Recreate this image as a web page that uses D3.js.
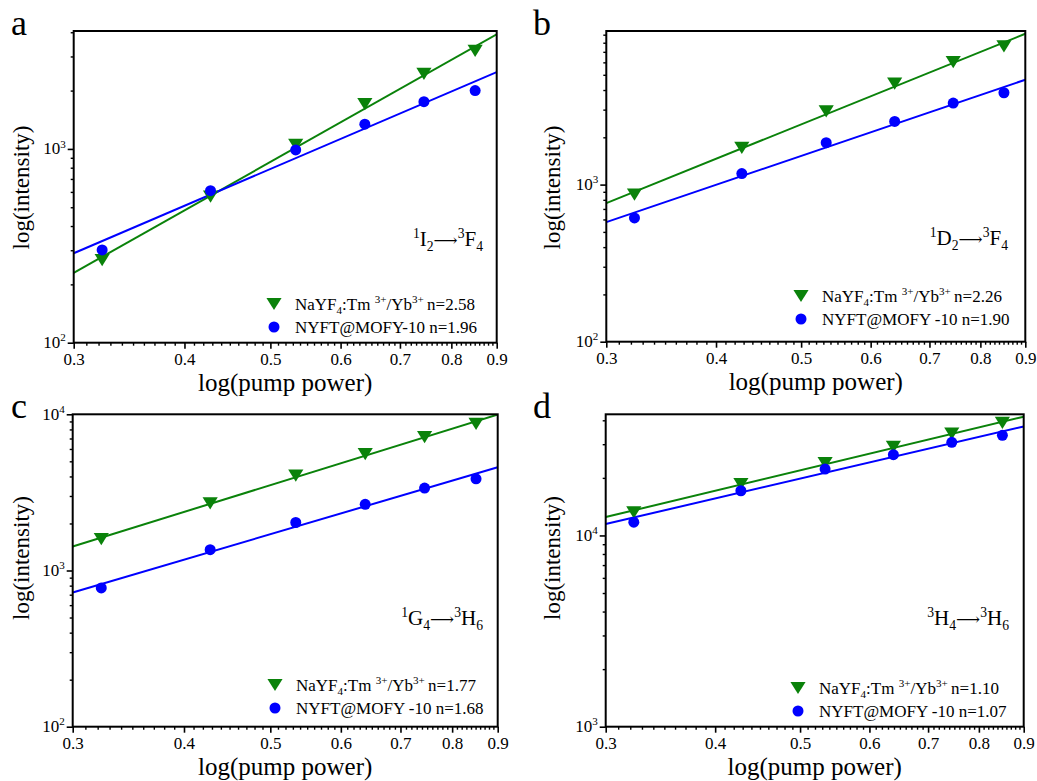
<!DOCTYPE html>
<html>
<head>
<meta charset="utf-8">
<script src="https://cdn.jsdelivr.net/npm/d3@7"></script>
<style>
  html, body { margin: 0; padding: 0; background: #fff; }
  svg { display: block; }
  svg text { font-family: "Liberation Serif", "Times New Roman", serif !important; }
  svg text tspan.arrow { font-family: "DejaVu Serif", "DejaVu Sans", serif !important; }
</style>
</head>
<body>
<svg id="chart" width="1037" height="781"></svg>
<script>
// ---- data -------------------------------------------------------------
// pump power (log axis), same excitation steps for every transition
const pumpPower = [0.323, 0.428, 0.534, 0.639, 0.745, 0.851];
const xTickValues = [0.3, 0.4, 0.5, 0.6, 0.7, 0.8, 0.9];

const panelLetters = ["a", "b", "c", "d"];

// emission transitions, as [text, "sup" | "sub" | "arrow"] segments
const transitions = [
  [["1", "sup"], ["I"], ["2", "sub"], ["\u27F6", "arrow"], ["3", "sup"], ["F"], ["4", "sub"]],
  [["1", "sup"], ["D"], ["2", "sub"], ["\u27F6", "arrow"], ["3", "sup"], ["F"], ["4", "sub"]],
  [["1", "sup"], ["G"], ["4", "sub"], ["\u27F6", "arrow"], ["3", "sup"], ["H"], ["6", "sub"]],
  [["3", "sup"], ["H"], ["4", "sub"], ["\u27F6", "arrow"], ["3", "sup"], ["H"], ["6", "sub"]]
];

// NaYF4:Tm3+/Yb3+ intensities
const nayfIntensityA = [267, 567, 1049, 1701, 2438, 3206];
const nayfIntensityB = [864, 1711, 2924, 4385, 6022, 7574];
const nayfIntensityC = [1589, 2692, 4055, 5569, 7141, 8683];
const nayfIntensityD = [13190, 18570, 23910, 29010, 34070, 38740];

// NYFT@MOFY-10 intensities
const mofyIntensityA = [301, 609, 988, 1341, 1754, 2000];
const mofyIntensityB = [614, 1175, 1849, 2526, 3304, 3843];
const mofyIntensityC = [773, 1360, 2029, 2653, 3370, 3863];
const mofyIntensityD = [11740, 17130, 22250, 26450, 30690, 33390];

// fitted slopes n (log-log)
const nayfSlopes = [2.58, 2.26, 1.77, 1.10];
const mofySlopes = [1.96, 1.90, 1.68, 1.07];

const mofyNames = ["NYFT@MOFY-10", "NYFT@MOFY -10", "NYFT@MOFY -10", "NYFT@MOFY -10"];

// y-axis ranges and labelled decades
const yDomains = [[100, 4060], [100, 9500], [100, 10000], [1000, 43000]];
const yDecades = [[100, 1000], [100, 1000], [100, 1000, 10000], [1000, 10000]];

const nayfSeries = [nayfIntensityA, nayfIntensityB, nayfIntensityC, nayfIntensityD];
const mofySeries = [mofyIntensityA, mofyIntensityB, mofyIntensityC, mofyIntensityD];

// ---- layout ---------------------------------------------------------------
const layout = [
  { left: 73.7,  right: 496.7,  top: 31,    bottom: 342.7, letter: [11, 35],   yTitle: [29, 187.5],  leg: [274, 304], label: [483, 246] },
  { left: 606.3, right: 1025.3, top: 31,    bottom: 341.7, letter: [533, 35],  yTitle: [560, 187.5], leg: [801, 296], label: [1008, 245] },
  { left: 72.7,  right: 497.7,  top: 414.3, bottom: 726.7, letter: [11, 418],  yTitle: [29, 558],    leg: [275, 685], label: [483, 625] },
  { left: 605.7, right: 1023.7, top: 414.3, bottom: 726.7, letter: [533, 418], yTitle: [560, 558],   leg: [798, 688], label: [1009, 625] }
];

const GREEN = "#0a820a";
const BLUE = "#0000ff";
const TICK_FONT = 17;
const LEG_FONT = 17;

const svg = d3.select("#chart");

// downward-pointing triangle marker
const triDown = {
  draw(ctx, size) {
    const h = Math.sqrt(size);
    const hw = h * 0.62;
    ctx.moveTo(-hw, -h / 2);
    ctx.lineTo(hw, -h / 2);
    ctx.lineTo(0, h / 2);
    ctx.closePath();
  }
};

// text made of plain / superscript / subscript runs
function richText(sel, segs, size) {
  let shift = 0;
  segs.forEach(([t, mode]) => {
    const target = mode === "sup" ? -0.4 * size : mode === "sub" ? 0.25 * size : 0;
    const ts = sel.append("tspan").text(t).attr("dy", target - shift);
    if (mode === "sup" || mode === "sub") ts.attr("font-size", size * 0.65);
    if (mode === "arrow") ts.attr("class", "arrow").attr("font-size", size * 0.8);
    shift = target;
  });
}

// straight log-log fit with slope n through the centroid of the points
function fitLine(xs, ys, n) {
  const mx = d3.mean(xs, v => Math.log10(v));
  const my = d3.mean(ys, v => Math.log10(v));
  return xv => Math.pow(10, my + n * (Math.log10(xv) - mx));
}

layout.forEach((L, i) => {
  const g = svg.append("g");
  const x = d3.scaleLog().domain([0.3, 0.9]).range([L.left, L.right]);
  const y = d3.scaleLog().domain(yDomains[i]).range([L.bottom, L.top]);

  const clipId = "clip-" + i;
  g.append("clipPath").attr("id", clipId)
    .append("rect")
    .attr("x", L.left).attr("y", L.top)
    .attr("width", L.right - L.left).attr("height", L.bottom - L.top);

  // x axis: minor ticks every 0.01, labelled majors every 0.1
  const xMinor = d3.range(30, 91).map(v => v / 100).filter(v => Math.round(v * 100) % 10 !== 0);
  g.append("g")
    .attr("transform", `translate(0,${L.bottom})`)
    .call(d3.axisBottom(x).tickValues(xMinor).tickSize(3).tickFormat(""))
    .call(a => a.select(".domain").remove())
    .call(a => a.selectAll("line").attr("stroke", "#000").attr("stroke-width", 1.4));

  g.append("g")
    .attr("transform", `translate(0,${L.bottom})`)
    .call(d3.axisBottom(x).tickValues(xTickValues).tickSize(6).tickFormat(d3.format(".1f")))
    .call(a => a.select(".domain").remove())
    .call(a => a.selectAll("line").attr("stroke", "#000").attr("stroke-width", 1.6))
    .call(a => a.selectAll("text")
      .attr("y", 10)
      .attr("font-size", TICK_FONT)
      .attr("fill", "#000"));

  // y axis: minor ticks at 2..9 x decade, labelled decades
  const yMinor = y.ticks().filter(v => !yDecades[i].includes(v));
  g.append("g")
    .attr("transform", `translate(${L.left},0)`)
    .call(d3.axisLeft(y).tickValues(yMinor).tickSize(3).tickFormat(""))
    .call(a => a.select(".domain").remove())
    .call(a => a.selectAll("line").attr("stroke", "#000").attr("stroke-width", 1.4));

  g.append("g")
    .attr("transform", `translate(${L.left},0)`)
    .call(d3.axisLeft(y).tickValues(yDecades[i]).tickSize(6).tickFormat(""))
    .call(a => a.select(".domain").remove())
    .call(a => a.selectAll("line").attr("stroke", "#000").attr("stroke-width", 1.6));

  yDecades[i].forEach(v => {
    const t = g.append("text")
      .attr("x", L.left - 8)
      .attr("y", y(v) + 5.5)
      .attr("text-anchor", "end")
      .attr("font-size", TICK_FONT)
      .attr("fill", "#000");
    richText(t, [["10"], [String(Math.round(Math.log10(v))), "sup"]], TICK_FONT);
  });

  // fitted lines
  const lineGen = d3.line().x(d => x(d[0])).y(d => y(d[1]));
  [[nayfSeries[i], nayfSlopes[i], GREEN], [mofySeries[i], mofySlopes[i], BLUE]].forEach(([ys, n, col]) => {
    const f = fitLine(pumpPower, ys, n);
    g.append("path")
      .datum([0.3, 0.9].map(xv => [xv, f(xv)]))
      .attr("clip-path", `url(#${clipId})`)
      .attr("d", lineGen)
      .attr("fill", "none")
      .attr("stroke", col)
      .attr("stroke-width", 2);
  });

  // data markers
  const tri = d3.symbol().type(triDown).size(150);
  g.selectAll(".nayf")
    .data(pumpPower.map((p, k) => [p, nayfSeries[i][k]]))
    .join("path")
    .attr("class", "nayf")
    .attr("transform", d => `translate(${x(d[0])},${y(d[1])})`)
    .attr("d", tri)
    .attr("fill", GREEN);

  g.selectAll(".mofy")
    .data(pumpPower.map((p, k) => [p, mofySeries[i][k]]))
    .join("circle")
    .attr("class", "mofy")
    .attr("cx", d => x(d[0]))
    .attr("cy", d => y(d[1]))
    .attr("r", 5.5)
    .attr("fill", BLUE);

  // frame
  g.append("rect")
    .attr("x", L.left).attr("y", L.top)
    .attr("width", L.right - L.left).attr("height", L.bottom - L.top)
    .attr("fill", "none").attr("stroke", "#000").attr("stroke-width", 2);

  // legend
  const [lx, ly] = L.leg;
  g.append("path")
    .attr("transform", `translate(${lx},${ly})`)
    .attr("d", tri)
    .attr("fill", GREEN);
  g.append("circle").attr("cx", lx).attr("cy", ly + 23).attr("r", 5.5).attr("fill", BLUE);

  const t1 = g.append("text").attr("x", lx + 21).attr("y", ly + 5.5).attr("font-size", LEG_FONT).attr("fill", "#000");
  richText(t1, [["NaYF"], ["4", "sub"], [":Tm "], ["3+", "sup"], ["/Yb"], ["3+", "sup"], ["\u2009n=" + nayfSlopes[i].toFixed(2)]], LEG_FONT);
  g.append("text")
    .attr("x", lx + 21).attr("y", ly + 28.5)
    .attr("font-size", LEG_FONT).attr("fill", "#000")
    .text(mofyNames[i] + " n=" + mofySlopes[i].toFixed(2));

  // transition label
  const tl = g.append("text")
    .attr("x", L.label[0]).attr("y", L.label[1])
    .attr("text-anchor", "end")
    .attr("font-size", 21).attr("fill", "#000");
  richText(tl, transitions[i], 21);

  // axis titles
  g.append("text")
    .attr("x", (L.left + L.right) / 2).attr("y", L.bottom + 48)
    .attr("text-anchor", "middle")
    .attr("font-size", 25).attr("fill", "#000")
    .text("log(pump power)");

  g.append("text")
    .attr("transform", `translate(${L.yTitle[0]},${L.yTitle[1]}) rotate(-90)`)
    .attr("text-anchor", "middle")
    .attr("font-size", 23).attr("fill", "#000")
    .text("log(intensity)");

  // panel letter
  g.append("text")
    .attr("x", L.letter[0]).attr("y", L.letter[1])
    .attr("font-size", 36).attr("fill", "#000")
    .text(panelLetters[i]);
});
</script>
</body>
</html>
